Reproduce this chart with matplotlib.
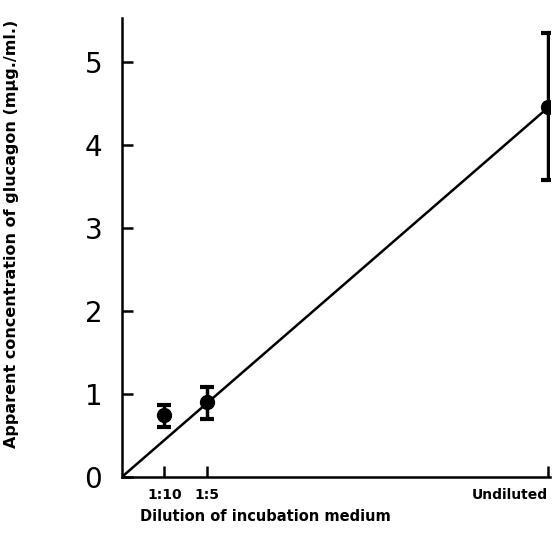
import matplotlib
matplotlib.use("Agg")
import matplotlib.pyplot as plt

# dilution fraction of incubation medium
x_vals = [0.1, 0.2, 1.0]
x_labels = ['1:10', '1:5', 'Undiluted']
conc = [0.75, 0.90, 4.45]
err_lo = [0.15, 0.20, 0.87]
err_hi = [0.12, 0.18, 0.90]
line_x = [0.0, 1.0]
line_y = [0.0, 4.45]

fig = plt.figure(figsize=(5.56, 5.43), dpi=100)
ax = fig.add_axes([0.219, 0.1215, 0.771, 0.846])

ax.plot(line_x, line_y, color='black', linewidth=1.8)
ax.errorbar(x_vals, conc, yerr=[err_lo, err_hi], fmt='o', color='black',
            markersize=10, elinewidth=2.5, capsize=5, capthick=3)

ax.set_xlim(0, 1.005)
ax.set_ylim(0, 5.53)
ax.set_xticks(x_vals)
ax.set_xticklabels(x_labels, fontsize=10, fontweight='bold')
ax.get_xticklabels()[-1].set_horizontalalignment('right')
ax.set_yticks(range(6))
ax.set_yticklabels([str(i) for i in range(6)], fontsize=20)
ax.tick_params(axis='both', direction='in', length=8, width=1.8)
ax.tick_params(axis='y', pad=14)
ax.tick_params(axis='x', pad=8)

for s in ['top', 'right']:
    ax.spines[s].set_visible(False)
for s in ['left', 'bottom']:
    ax.spines[s].set_linewidth(1.8)

ax.set_xlabel('Dilution of incubation medium', fontsize=10.5,
              fontweight='bold')
ax.xaxis.set_label_coords(0.335, -0.07)
ax.set_ylabel('Apparent concentration of glucagon (m\u03bcg./ml.)',
              fontsize=11.5, fontweight='bold')
ax.yaxis.set_label_coords(-0.24, 0.53)

fig.savefig('out.png', dpi=100)
